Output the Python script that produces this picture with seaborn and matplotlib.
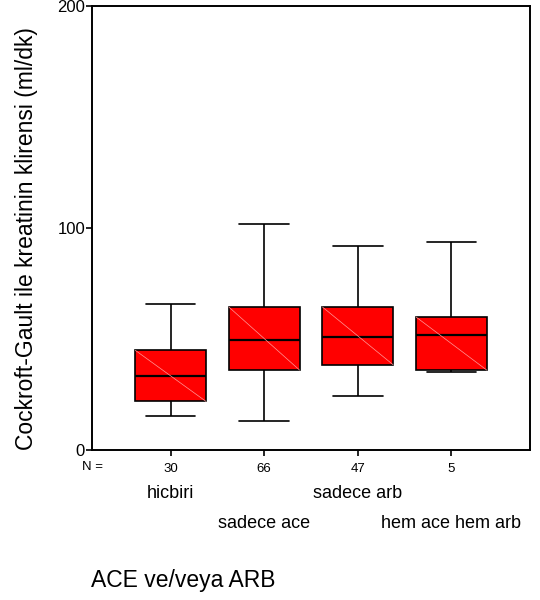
import matplotlib
matplotlib.use("Agg")
import matplotlib.pyplot as plt
import seaborn as sns
import pandas as pd

# Five-number summaries (whisker low, Q1, median, Q3, whisker high)
categories = ["hicbiri", "sadece ace", "sadece arb", "hem ace hem arb"]
n_counts = [30, 66, 47, 5]
whisker_low = [15.2, 13.1, 24.2, 35.3]
q1 = [21.9, 36.0, 38.4, 36.0]
median = [33.2, 49.5, 51.0, 51.8]
q3 = [44.9, 64.4, 64.4, 59.9]
whisker_high = [65.8, 101.8, 92.0, 93.5]
y_ticks = [0, 100, 200]

rows = []
for i, c in enumerate(categories):
    for v in (whisker_low[i], q1[i], median[i], q3[i], whisker_high[i]):
        rows.append({"grp": c, "val": v})
df = pd.DataFrame(rows)

sns.set_style("white")
plt.rcParams["font.family"] = ["Liberation Sans", "DejaVu Sans"]
plt.rcParams["text.color"] = "black"
plt.rcParams["axes.labelcolor"] = "black"
plt.rcParams["xtick.color"] = "black"
plt.rcParams["ytick.color"] = "black"

fig = plt.figure(figsize=(5.4, 6), dpi=100)
ax = fig.add_axes([92 / 540, 150 / 600, 438 / 540, 444 / 600])

sns.boxplot(data=df, x="grp", y="val", order=categories, whis=(0, 100),
            color="#ff0000", saturation=1, width=0.755, linecolor="black",
            linewidth=1.2, showfliers=False, ax=ax,
            medianprops={"linewidth": 1.6, "color": "black"},
            capwidths=0.53)

# faint diagonal across each box
for i in range(len(categories)):
    ax.plot([i - 0.3775, i + 0.3775], [q3[i], q1[i]], color="#ff9a9a",
            lw=0.5, zorder=5)

ax.set_xlim(-0.84, 3.84)
ax.set_ylim(0, 200)
ax.set_yticks(y_ticks)
ax.set_yticklabels([str(t) for t in y_ticks], fontsize=12)
ax.set_xticks(range(len(categories)))
ax.set_xticklabels([str(n) for n in n_counts], fontsize=9.5)
ax.tick_params(axis="both", which="major", direction="out", length=4,
               width=1.2, color="black", labelcolor="black",
               left=True, bottom=True)
ax.tick_params(axis="y", pad=1)
ax.tick_params(axis="x", pad=5)

for s in ax.spines.values():
    s.set_visible(True)
    s.set_color("black")
    s.set_linewidth(1.4)

ax.set_ylabel("Cockroft-Gault ile kreatinin klirensi (ml/dk)", fontsize=16.5,
              color="black")
ax.yaxis.set_label_coords(-0.123, 0.477)

ax.set_xlabel("ACE ve/veya ARB", fontsize=16.5, color="black")
ax.xaxis.label.set_ha("left")
ax.xaxis.label.set_va("center")
ax.xaxis.set_label_coords(-0.002, (450 - 581) / 444)

trans = ax.get_xaxis_transform()
ax.text(-0.72, (450 - 467) / 444, "N =", transform=trans, ha="right",
        va="center", fontsize=9.5, color="black")
row_y = [(450 - 494) / 444, (450 - 523) / 444]
for i, c in enumerate(categories):
    ax.text(i, row_y[i % 2], c, transform=trans, ha="center", va="center",
            fontsize=13, color="black")

fig.savefig("out.png", dpi=100)
